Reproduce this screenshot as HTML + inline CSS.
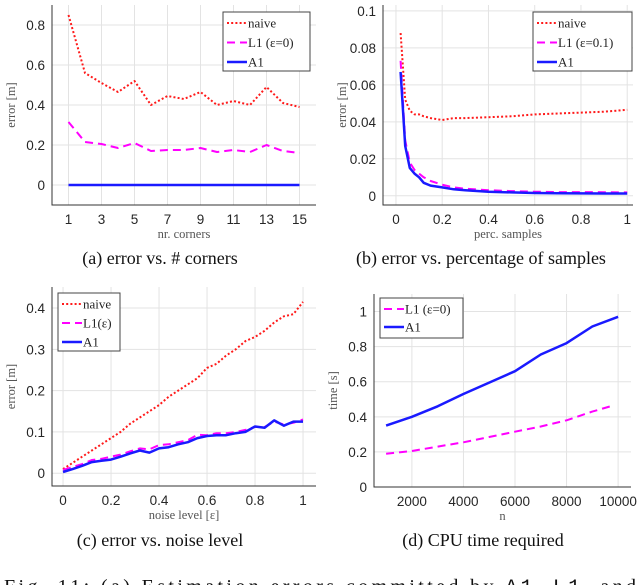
<!DOCTYPE html>
<html><head><meta charset="utf-8">
<style>
html,body{margin:0;padding:0;background:#fff;}
svg{display:block;}
.tick{font-family:"Liberation Sans",sans-serif;font-size:13.5px;fill:#262626;}
.axl{font-family:"Liberation Serif",serif;font-size:12.5px;fill:#555;}
.cap{font-family:"Liberation Serif",serif;font-size:18px;fill:#111;}
.leg{font-family:"Liberation Serif",serif;font-size:13px;fill:#222;}
.fig{font-family:"Liberation Serif",serif;font-size:20px;fill:#111;}
</style></head>
<body>
<svg id="fig" width="640" height="585" viewBox="0 0 640 585" xmlns="http://www.w3.org/2000/svg">
<text class="fig" x="4" y="593" textLength="632" lengthAdjust="spacing">Fig. 11: (a) Estimation errors committed by <tspan font-family="Liberation Mono,monospace">A1</tspan>, <tspan font-family="Liberation Mono,monospace">L1</tspan>, and</text>
</svg>
<script>
// ---- Panel (a) data ----
const aX = [1,2,3,4,5,6,7,8,9,10,11,12,13,14,15];
const aNaive = [0.85,0.56,0.51,0.465,0.52,0.40,0.445,0.43,0.465,0.40,0.42,0.40,0.49,0.41,0.39];
const aL1 = [0.315,0.215,0.205,0.185,0.21,0.17,0.175,0.175,0.185,0.165,0.175,0.165,0.2,0.17,0.16];
const aA1 = [0,0,0,0,0,0,0,0,0,0,0,0,0,0,0];
const aXTicks = [1,3,5,7,9,11,13,15];
const aYTicks = [0,0.2,0.4,0.6,0.8];
// ---- Panel (b) data ----
const bX = [0.02,0.04,0.06,0.08,0.1,0.12,0.15,0.2,0.25,0.3,0.4,0.5,0.6,0.7,0.8,0.9,1];
const bNaive = [0.088,0.052,0.046,0.044,0.044,0.043,0.042,0.041,0.042,0.042,0.0425,0.043,0.044,0.0445,0.045,0.0455,0.0465];
const bL1 = [0.073,0.03,0.018,0.014,0.012,0.010,0.008,0.006,0.0045,0.0038,0.003,0.0025,0.0022,0.002,0.002,0.0019,0.0018];
const bA1 = [0.067,0.027,0.015,0.012,0.010,0.007,0.0055,0.0045,0.0035,0.003,0.0022,0.0018,0.0015,0.0014,0.0013,0.0012,0.0012];
const bXTicks = [0,0.2,0.4,0.6,0.8,1];
const bYTicks = [0,0.02,0.04,0.06,0.08,0.1];
// ---- Panel (c) data ----
const cX = [0,0.04,0.08,0.12,0.16,0.2,0.24,0.28,0.32,0.36,0.4,0.44,0.48,0.52,0.56,0.6,0.64,0.68,0.72,0.76,0.8,0.84,0.88,0.92,0.96,1];
const cNaive = [0.01,0.025,0.04,0.055,0.07,0.085,0.10,0.12,0.135,0.15,0.165,0.185,0.20,0.215,0.23,0.255,0.265,0.285,0.30,0.32,0.33,0.345,0.365,0.38,0.385,0.415];
const cL1 = [0.008,0.015,0.022,0.032,0.035,0.04,0.045,0.053,0.06,0.058,0.068,0.07,0.075,0.08,0.093,0.092,0.097,0.097,0.1,0.105,0.112,0.112,0.125,0.118,0.122,0.13];
const cA1 = [0.003,0.01,0.018,0.027,0.03,0.033,0.04,0.048,0.055,0.05,0.06,0.063,0.07,0.075,0.085,0.09,0.092,0.092,0.097,0.1,0.113,0.11,0.128,0.115,0.125,0.125];
const cXTicks = [0,0.2,0.4,0.6,0.8,1];
const cYTicks = [0,0.1,0.2,0.3,0.4];
// ---- Panel (d) data ----
const dX = [1000,2000,3000,4000,5000,6000,7000,8000,9000,10000];
const dA1 = [0.35,0.40,0.46,0.53,0.595,0.66,0.755,0.82,0.915,0.97];
const dL1X = [1000,2000,3000,4000,5000,6000,7000,8000,9000,9700];
const dL1 = [0.19,0.205,0.23,0.255,0.285,0.315,0.345,0.38,0.43,0.46];
const dXTicks = [2000,4000,6000,8000,10000];
const dYTicks = [0,0.2,0.4,0.6,0.8,1];

const NS="http://www.w3.org/2000/svg";
const svg=document.getElementById('fig');
function mk(tag,attrs,parent){const e=document.createElementNS(NS,tag);for(const k in attrs)e.setAttribute(k,attrs[k]);(parent||svg).appendChild(e);return e;}
const STY={
 naive:{stroke:'#ff1a1a',w:2,dash:'2,2.2'},
 l1:{stroke:'#ff00ff',w:2,dash:'8,5'},
 a1:{stroke:'#1a1aff',w:2.5,dash:''}
};
function panel(p){
 const g=mk('g',{});
 
 
 const sx=v=>p.L+(v-p.xd[0])/(p.xd[1]-p.xd[0])*(p.R-p.L);
 const sy=v=>p.B-(v-p.yd[0])/(p.yd[1]-p.yd[0])*(p.B-p.T);
 p.xt.forEach(t=>{const l=mk('line',{x1:sx(t),x2:sx(t),y1:p.T,y2:p.B,stroke:'#e3e3e3','stroke-width':1},g);
  });
 p.yt.forEach(t=>{const l=mk('line',{x1:p.L,x2:p.R,y1:sy(t),y2:sy(t),stroke:'#e3e3e3','stroke-width':1},g);
  });
 const ax=mk('path',{d:`M${p.L},${p.T}V${p.B}H${p.R}`,fill:'none',stroke:'#333','stroke-width':1},g);
 
 p.xt.forEach(t=>{const e=mk('text',{class:'tick',x:sx(t),y:p.B+19,'text-anchor':'middle'},g);e.textContent=p.xf(t);
  });
 p.yt.forEach(t=>{const e=mk('text',{class:'tick',x:p.L-7,y:sy(t)+5,'text-anchor':'end'},g);e.textContent=p.yf(t);
  });
 p.series.forEach(s=>{const st=STY[s.k];
  const d=s.x.map((x,i)=>(i?'L':'M')+sx(x).toFixed(1)+','+sy(s.y[i]).toFixed(1)).join('');
  const e=mk('path',{d:d,fill:'none',stroke:st.stroke,'stroke-width':st.w,'stroke-dasharray':st.dash,'stroke-linejoin':'round'},g);
  });
 const xl=mk('text',{class:'axl',x:(p.L+p.R)/2,y:p.B+33,'text-anchor':'middle'},g);xl.textContent=p.xl;
 
 const yx=p.L-37,yc=(p.T+p.B)/2;
 const yl=mk('text',{class:'axl',x:yx,y:yc,'text-anchor':'middle',transform:`rotate(-90 ${yx} ${yc})`},g);yl.textContent=p.yl;
 
 const cp=mk('text',{class:'cap',x:p.capx,y:p.capy,'text-anchor':'middle'},g);cp.textContent=p.cap;
 
 const lg=p.leg;
 const lb=mk('rect',{x:lg.x,y:lg.y,width:lg.w,height:lg.h,fill:'#fff',stroke:'#444','stroke-width':1},g);
 
 lg.items.forEach((it,i)=>{const st=STY[it.k];const yy=lg.y+11+i*lg.step;
  const ln=mk('line',{x1:lg.x+4,x2:lg.x+24,y1:yy,y2:yy,stroke:st.stroke,'stroke-width':st.w,'stroke-dasharray':st.dash},g);
  
  const t=mk('text',{class:'leg',x:lg.x+25,y:yy+4.5},g);t.textContent=it.t;
  });
}
const f1=v=>String(+v.toFixed(2));
panel({name:'panel-a',L:52,R:316,T:5,B:205,xd:[0,16],yd:[-0.1,0.9],xt:aXTicks,yt:aYTicks,xf:String,yf:f1,
 xl:'nr. corners',yl:'error [m]',cap:'(a) error vs. # corners',capx:160,capy:264,
 series:[{k:'naive',x:aX,y:aNaive},{k:'l1',x:aX,y:aL1},{k:'a1',x:aX,y:aA1}],
 leg:{x:223,y:12,w:87,h:59,step:19.5,items:[{k:'naive',t:'naive'},{k:'l1',t:'L1 (ε=0)'},{k:'a1',t:'A1'}]}});
panel({name:'panel-b',L:383,R:633,T:5,B:205,xd:[-0.056,1.025],yd:[-0.005,0.1032],xt:bXTicks,yt:bYTicks,xf:f1,yf:f1,
 xl:'perc. samples',yl:'error [m]',cap:'(b) error vs. percentage of samples',capx:481,capy:264,
 series:[{k:'naive',x:bX,y:bNaive},{k:'l1',x:bX,y:bL1},{k:'a1',x:bX,y:bA1}],
 leg:{x:533,y:12,w:99,h:59,step:19.5,items:[{k:'naive',t:'naive'},{k:'l1',t:'L1 (ε=0.1)'},{k:'a1',t:'A1'}]}});
panel({name:'panel-c',L:52,R:316,T:287,B:486,xd:[-0.046,1.054],yd:[-0.031,0.451],xt:cXTicks,yt:cYTicks,xf:f1,yf:f1,
 xl:'noise level [ε]',yl:'error [m]',cap:'(c) error vs. noise level',capx:160,capy:546,
 series:[{k:'naive',x:cX,y:cNaive},{k:'l1',x:cX,y:cL1},{k:'a1',x:cX,y:cA1}],
 leg:{x:58,y:293,w:62,h:58,step:19,items:[{k:'naive',t:'naive'},{k:'l1',t:'L1(ε)'},{k:'a1',t:'A1'}]}});
panel({name:'panel-d',L:374,R:631,T:294,B:487,xd:[530,10500],yd:[0,1.1],xt:dXTicks,yt:dYTicks,xf:String,yf:f1,
 xl:'n',yl:'time [s]',cap:'(d) CPU time required',capx:483,capy:546,
 series:[{k:'l1',x:dL1X,y:dL1},{k:'a1',x:dX,y:dA1}],
 leg:{x:380,y:298,w:83,h:40,step:18,items:[{k:'l1',t:'L1 (ε=0)'},{k:'a1',t:'A1'}]}});
</script>
</body></html>
